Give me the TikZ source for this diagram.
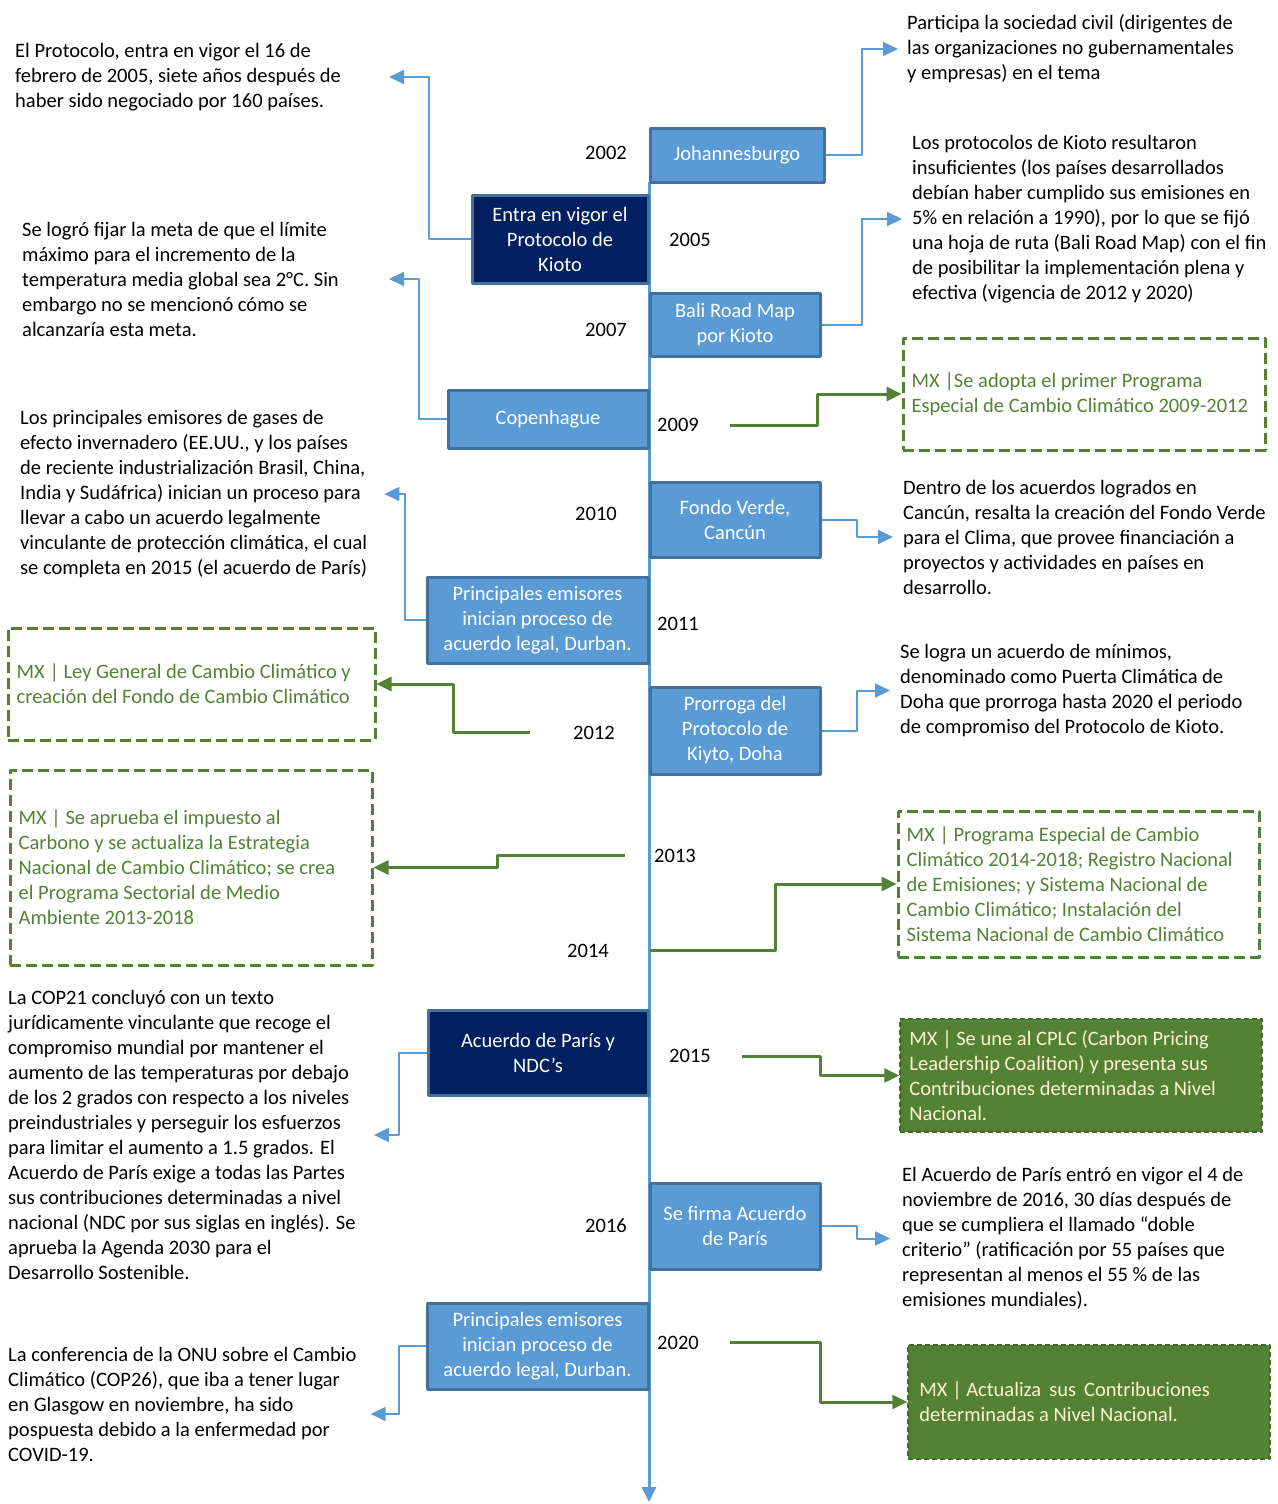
\documentclass[tikz,border=0pt]{standalone}
\usepackage{fontspec}
\setmainfont{Carlito}
\usetikzlibrary{arrows.meta,positioning}
\definecolor{azul}{HTML}{5B9BD5}
\definecolor{bordeazul}{HTML}{41719C}
\definecolor{marino}{HTML}{002060}
\definecolor{verde}{HTML}{548235}
\definecolor{crema}{HTML}{FFF2CC}
\begin{document}
\begin{tikzpicture}[x=1pt, y=-1pt, >={Triangle[length=15pt,width=14pt]}, line join=round,
    font=\fontsize{20.5}{25}\selectfont,
    evento/.style={draw=bordeazul, fill=azul, line width=3pt, text=white, align=center, inner sep=0pt},
    hito/.style={evento, fill=marino},
    nota/.style={align=left, inner sep=0pt, anchor=west},
    anio/.style={inner sep=0pt},
    mxcaja/.style={draw=verde, line width=3pt, dash pattern=on 11pt off 5pt},
    mxlleno/.style={draw=verde!80!black, fill=verde, line width=1.5pt, dash pattern=on 5pt off 3pt},
    mxtexto/.style={align=left, inner sep=0pt, text=verde},
    flecha/.style={->, azul, line width=2pt},
    flechamx/.style={->, verde, line width=3pt}]
    \useasboundingbox (0,0) rectangle (1277,1504);
    % eje del tiempo
    \coordinate (ejeA) at (649,182);
    \coordinate (ejeB) at (649,1502);
    \draw[azul, line width=3pt, ->] (ejeA) -- (ejeB);
    % eventos
    \node[evento, minimum width=174pt, minimum height=54pt] (johan) at (737,155) {Johannesburgo};
    \node[hito, minimum width=176pt, minimum height=88pt] (entra) at (560,239) {Entra en vigor el\\Protocolo de\\Kioto};
    \node[evento, minimum width=170pt, minimum height=63pt] (bali) at (735,324.5) {Bali Road Map\\por Kioto};
    \node[evento, minimum width=200pt, minimum height=58pt] (copen) at (548,419) {Copenhague};
    \node[evento, minimum width=170pt, minimum height=75pt] (fondo) at (735,519.5) {Fondo Verde,\\Cancún};
    \node[evento, minimum width=221pt, minimum height=86pt] (durban) at (537.5,620) {Principales emisores\\inician proceso de\\acuerdo legal, Durban.};
    \node[evento, minimum width=170pt, minimum height=87pt] (doha) at (735,730.5) {Prorroga del\\Protocolo de\\Kiyto, Doha};
    \node[hito, minimum width=220pt, minimum height=85pt] (paris) at (538,1052.5) {Acuerdo de París y\\NDC’s};
    \node[evento, minimum width=170pt, minimum height=86pt] (firma) at (735,1226) {Se firma Acuerdo\\de París};
    \node[evento, minimum width=221pt, minimum height=86pt] (durbanB) at (537.5,1346) {Principales emisores\\inician proceso de\\acuerdo legal, Durban.};
    % años
    \node[anio] (y2002) at (606,153) {2002};
    \node[anio] (y2005) at (690,240) {2005};
    \node[anio] (y2007) at (606,330) {2007};
    \node[anio] (y2009) at (678,425) {2009};
    \node[anio] (y2010) at (596,514) {2010};
    \node[anio] (y2011) at (678,624) {2011};
    \node[anio] (y2012) at (594,733) {2012};
    \node[anio] (y2013) at (675,856) {2013};
    \node[anio] (y2014) at (588,951) {2014};
    \node[anio] (y2015) at (690,1056) {2015};
    \node[anio] (y2016) at (606,1226) {2016};
    \node[anio] (y2020) at (678,1343) {2020};
    % notas a la izquierda
    \node[nota] (tProt) at (15,77) {El Protocolo, entra en vigor el 16 de\\febrero de 2005, siete años después de\\haber sido negociado por 160 países.};
    \node[nota] (tMeta) at (22,279) {Se logró fijar la meta de que el límite\\máximo para el incremento de la\\temperatura media global sea 2°C. Sin\\embargo no se mencionó cómo se\\alcanzaría esta meta.};
    \node[nota] (tEmis) at (20,494) {Los principales emisores de gases de\\efecto invernadero (EE.UU., y los países\\de reciente industrialización Brasil, China,\\India y Sudáfrica) inician un proceso para\\llevar a cabo un acuerdo legalmente\\vinculante de protección climática, el cual\\se completa en 2015 (el acuerdo de París)};
    \node[nota] (tCop21) at (8,1135) {La COP21 concluyó con un texto\\jurídicamente vinculante que recoge el\\compromiso mundial por mantener el\\aumento de las temperaturas por debajo\\de los 2 grados con respecto a los niveles\\preindustriales y perseguir los esfuerzos\\para limitar el aumento a 1.5 grados. El\\Acuerdo de París exige a todas las Partes\\sus contribuciones determinadas a nivel\\nacional (NDC por sus siglas en inglés). Se\\aprueba la Agenda 2030 para el\\Desarrollo Sostenible.};
    \node[nota] (tCop26) at (8,1404) {La conferencia de la ONU sobre el Cambio\\Climático (COP26), que iba a tener lugar\\en Glasgow en noviembre, ha sido\\pospuesta debido a la enfermedad por\\COVID-19.};
    % notas a la derecha
    \node[nota] (tPart) at (907,49) {Participa la sociedad civil (dirigentes de\\las organizaciones no gubernamentales\\y empresas) en el tema};
    \node[nota] (tBali) at (912,219) {Los protocolos de Kioto resultaron\\insuficientes (los países desarrollados\\debían haber cumplido sus emisiones en\\5\% en relación a 1990), por lo que se fijó\\una hoja de ruta (Bali Road Map) con el fin\\de posibilitar la implementación plena y\\efectiva (vigencia de 2012 y 2020)};
    \node[nota] (tFondo) at (903,537) {Dentro de los acuerdos logrados en\\Cancún, resalta la creación del Fondo Verde\\para el Clima, que provee financiación a\\proyectos y actividades en países en\\desarrollo.};
    \node[nota] (tDoha) at (900,690.5) {Se logra un acuerdo de mínimos,\\denominado como Puerta Climática de\\Doha que prorroga hasta 2020 el periodo\\de compromiso del Protocolo de Kioto.};
    \node[nota] (tFirma) at (902,1238.5) {El Acuerdo de París entró en vigor el 4 de\\noviembre de 2016, 30 días después de\\que se cumpliera el llamado “doble\\criterio” (ratificación por 55 países que\\representan al menos el 55 \% de las\\emisiones mundiales).};
    % acciones de México
    \node[mxcaja, minimum width=362pt, minimum height=112pt] (mx09) at (1084,394) {};
    \node[mxtexto, right=10pt of mx09.west] (mx09t) {MX |Se adopta el primer Programa\\Especial de Cambio Climático 2009-2012};
    \node[mxcaja, minimum width=367pt, minimum height=112pt] (mx12) at (191.5,684) {};
    \node[mxtexto, right=10pt of mx12.west] (mx12t) {MX | Ley General de Cambio Climático y\\creación del Fondo de Cambio Climático};
    \node[mxcaja, minimum width=362pt, minimum height=195pt] (mx13) at (191,867.5) {};
    \node[mxtexto, right=10pt of mx13.west] (mx13t) {MX | Se aprueba el impuesto al\\Carbono y se actualiza la Estrategia\\Nacional de Cambio Climático; se crea\\el Programa Sectorial de Medio\\Ambiente 2013-2018};
    \node[mxcaja, minimum width=361pt, minimum height=146pt] (mx14) at (1078.5,884) {};
    \node[mxtexto, right=10pt of mx14.west] (mx14t) {MX | Programa Especial de Cambio\\Climático 2014-2018; Registro Nacional\\de Emisiones; y Sistema Nacional de\\Cambio Climático; Instalación del\\Sistema Nacional de Cambio Climático};
    \node[mxlleno, minimum width=362pt, minimum height=113pt] (mx15) at (1081,1075.5) {};
    \node[mxtexto, text=crema, right=10pt of mx15.west] (mx15t) {MX | Se une al CPLC (Carbon Pricing\\Leadership Coalition) y presenta sus\\Contribuciones determinadas a Nivel\\Nacional.};
    \node[mxlleno, minimum width=362pt, minimum height=114pt] (mx20) at (1089,1402) {};
    \node[mxtexto, text=crema, right=12pt of mx20.west] (mx20t) {MX | Actualiza\, sus\, Contribuciones\\determinadas a Nivel Nacional.};
    % conectores
    \draw[flecha, shorten >=9pt] (johan.east) -- ++(36,0) |- (tPart.west);
    \draw[flecha, shorten >=48pt] (entra.west) -- ++(-42,0) |- (tProt.east);
    \draw[flecha, shorten >=10pt] (bali.east) -- ++(40,0) |- (tBali.west);
    \draw[flecha, shorten >=50pt] (copen.west) -- ++(-28,0) |- (tMeta.east);
    \draw[flecha, shorten >=10pt] (fondo.east) -- ++(35,0) |- (tFondo.west);
    \draw[flecha, shorten >=17pt] (durban.west) -- ++(-21,0) |- (tEmis.east);
    \draw[flecha, shorten >=10pt] (doha.east) -- ++(35,0) |- (tDoha.west);
    \draw[flecha, shorten >=18pt] (paris.west) -- ++(-28,0) |- (tCop21.east);
    \draw[flecha, shorten >=12pt] (firma.east) -- ++(35,0) |- (tFirma.west);
    \draw[flecha, shorten >=14pt] (durbanB.west) -- ++(-27,0) |- ([yshift=-10pt]tCop26.east);
    \coordinate (g09) at (730,425);
    \coordinate (g12) at (530,732);
    \coordinate (g13) at (625,855);
    \coordinate (g14) at (650,950);
    \coordinate (g15) at (742,1056);
    \coordinate (g20) at (730,1342);
    \draw[flechamx] (g09) -- ++(87,0) |- (mx09.west);
    \draw[flechamx] (g12) -- ++(-77,0) |- (mx12.east);
    \draw[flechamx] (g13) -- ++(-128,0) |- (mx13.east);
    \draw[flechamx] (g14) -- ++(125,0) |- (mx14.west);
    \draw[flechamx] (g15) -- ++(78,0) |- (mx15.west);
    \draw[flechamx] (g20) -- ++(90,0) |- (mx20.west);
\end{tikzpicture}
\end{document}
